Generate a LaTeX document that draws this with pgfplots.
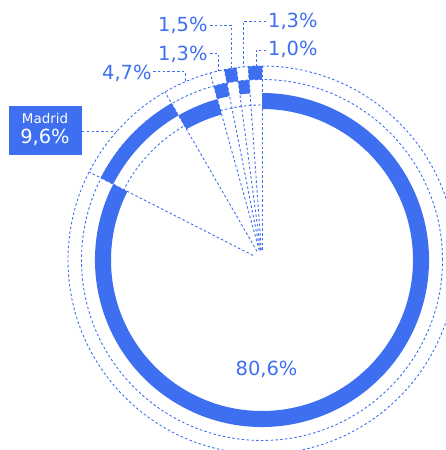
\documentclass[border=0pt]{standalone}
\usepackage{pgfplots}
\pgfplotsset{compat=1.18}
\usepackage{fontspec}
\setmainfont{DejaVu Sans}
\definecolor{bl}{RGB}{62,111,240}
% segment: start angle, end angle, inner radius, outer radius
\newcommand\seg[4]{\fill[bl] (axis cs:{#3*cos(#1)},{#3*sin(#1)}) arc[start angle=#1,end angle=#2,radius=#3] -- (axis cs:{#4*cos(#2)},{#4*sin(#2)}) arc[start angle=#2,end angle=#1,radius=#4] -- cycle;}
\tikzset{dl/.style={draw=bl,line width=0.9bp,dash pattern=on 2.5bp off 2.3bp},
  lab/.style={text=bl,inner sep=0pt,font=\fontsize{19.5}{20}\selectfont}}
\begin{document}
\begin{tikzpicture}
\begin{axis}[x=1bp,y=1bp,xmin=-262,xmax=184,ymin=-190,ymax=260,
  hide axis,disabledatascaling,clip=true]
\coordinate (A) at (axis cs:-262,-190);
\coordinate (B) at (axis cs:184,260);
% dashed guide circles
\draw[dl] (axis cs:0,0) circle[radius=155];
\draw[dl] (axis cs:0,0) circle[radius=180.5];
\draw[dl] (axis cs:0,0) circle[radius=194];
% radial boundaries
\pgfplotsinvokeforeach{90,94.1,97.6,101.2,105.5,120,153}{
  \draw[dl] (axis cs:{10*cos(#1)},{10*sin(#1)}) -- (axis cs:{194*cos(#1)},{194*sin(#1)});}
% segments
\seg{90}{-207}{151}{167}      % 80,6%
\seg{153}{120}{167}{181}      % Madrid 9,6%
\seg{120}{105.5}{151}{167}    % 4,7%
\seg{105.5}{101.2}{167}{180.5}% 1,3%
\seg{101.2}{97.6}{180.5}{194} % 1,5%
\seg{97.6}{94.1}{167}{180.5}  % 1,3%
\seg{94.1}{90}{180.5}{194}    % 1,0%
% leaders
\draw[dl] (axis cs:-180,129) -- (axis cs:-145,129);
\draw[dl] (axis cs:-109,188.3) -- (axis cs:-77,188.3) -- (axis cs:-77,178);
\draw[dl] (axis cs:-52,207) -- (axis cs:-44,207) -- (axis cs:-44,189);
\draw[dl] (axis cs:-52,235) -- (axis cs:-31,235) -- (axis cs:-31,191.5);
\draw[dl] (axis cs:4,238.3) -- (axis cs:-19,238.3) -- (axis cs:-19,193);
\draw[dl] (axis cs:4,210) -- (axis cs:-6,210) -- (axis cs:-6,194);
% labels
\node[lab,anchor=base west] at (axis cs:-104,228) {1,5\%};
\node[lab,anchor=base west] at (axis cs:-104,199) {1,3\%};
\node[lab,anchor=base west] at (axis cs:-160,180) {4,7\%};
\node[lab,anchor=base west] at (axis cs:6,232.5) {1,3\%};
\node[lab,anchor=base west] at (axis cs:6,204.5) {1,0\%};
\node[lab,anchor=base] at (axis cs:4.5,-115) {80,6\%};
\fill[bl] (axis cs:-253,105) rectangle (axis cs:-180,154);
\node[text=white,inner sep=0pt,anchor=base,font=\fontsize{13.5}{14}\selectfont] at (axis cs:-217,136.5) {Madrid};
\node[text=white,inner sep=0pt,anchor=base,font=\fontsize{19.5}{20}\selectfont] at (axis cs:-217,116) {9,6\%};
\end{axis}
\pgfresetboundingbox
\path[use as bounding box] (A) rectangle (B);
\end{tikzpicture}
\end{document}
